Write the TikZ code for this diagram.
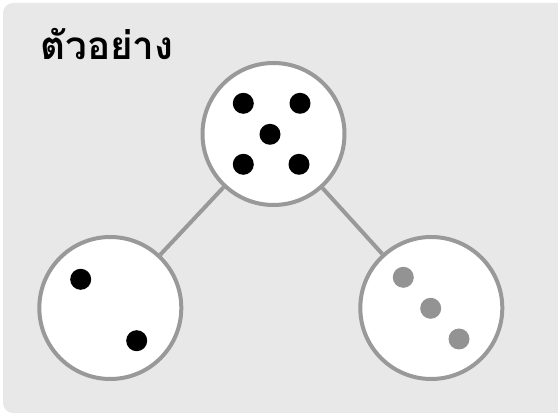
\documentclass[tikz,border=0pt]{standalone}
\usepackage{fontspec}
\newfontfamily\thaifont[Script=Thai]{Loma}
\definecolor{bgcol}{HTML}{E8E8E8}
\definecolor{edgecol}{HTML}{999999}
\definecolor{dotgray}{HTML}{939393}
\tikzset{
  bag/.style={circle, draw=edgecol, line width=3pt, fill=white, minimum size=142*0.75pt, inner sep=0pt},
  link/.style={draw=edgecol, line width=3pt},
  blackdot/.style={circle, fill=black, minimum size=21*0.75pt, inner sep=0pt},
  graydot/.style={circle, fill=dotgray, minimum size=21*0.75pt, inner sep=0pt},
}
\begin{document}
\begin{tikzpicture}[x=0.75pt, y=-0.75pt]
\useasboundingbox (0,0) rectangle (558,417);
\clip (0,0) rectangle (558,417);
\fill[bgcol, rounded corners=7.5pt] (3,3) rectangle (570,413);
\node[anchor=base west, inner sep=0pt, font=\thaifont\bfseries\fontsize{29}{34}\selectfont] (title) at (40,60) {ตัวอย่าง};
\node[bag] (top) at (273.5,134) {};
\node[bag] (left) at (110.3,308) {};
\node[bag] (right) at (431.3,308) {};
\draw[link] (top) -- (left);
\draw[link] (top) -- (right);
\node[blackdot] (t1) at (243.3,103.3) {};
\node[blackdot] (t2) at (300,103.3) {};
\node[blackdot] (t3) at (270,134.3) {};
\node[blackdot] (t4) at (243.3,164.3) {};
\node[blackdot] (t5) at (299,164.3) {};
\node[blackdot] (l1) at (80.7,279.3) {};
\node[blackdot] (l2) at (136.7,340.7) {};
\node[graydot] (r1) at (403.3,277.3) {};
\node[graydot] (r2) at (430.7,308.3) {};
\node[graydot] (r3) at (459,339) {};
\end{tikzpicture}
\end{document}
